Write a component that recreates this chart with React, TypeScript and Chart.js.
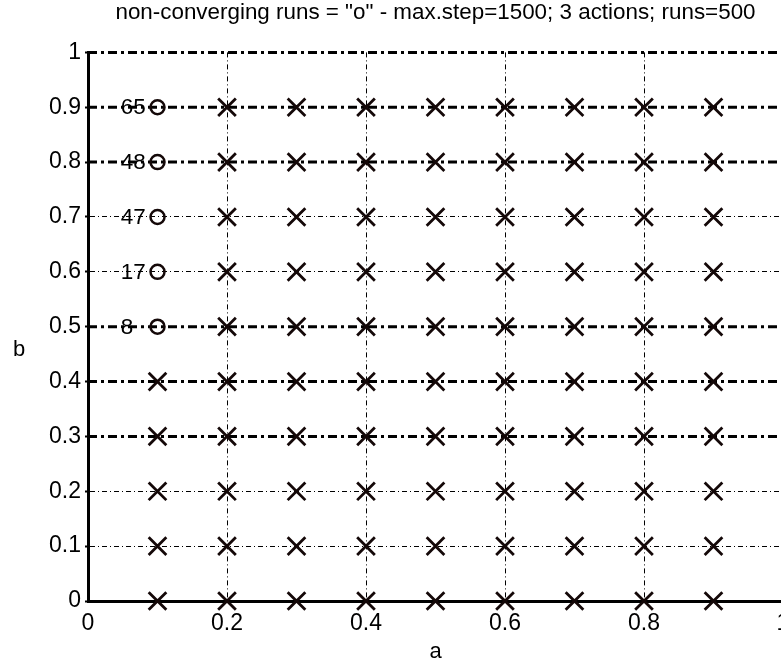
import React, { useEffect, useRef } from 'react';
import { Chart, registerables } from 'chart.js';

Chart.register(...registerables);

const TITLE = 'non-converging runs = "o" - max.step=1500; 3 actions; runs=500';
const X_LABEL = 'a';
const Y_LABEL = 'b';

const aValues = [0.1, 0.2, 0.3, 0.4, 0.5, 0.6, 0.7, 0.8, 0.9];
const bValues = [0, 0.1, 0.2, 0.3, 0.4, 0.5, 0.6, 0.7, 0.8, 0.9];
const circleA = 0.1;
const circleB = [0.5, 0.6, 0.7, 0.8, 0.9];
const circleCounts = [8, 17, 47, 48, 65];
const countLabelA = 0.047;
const thickLineB = [1, 0.9, 0.8, 0.5, 0.4, 0.3];

const xTicks = [0, 0.2, 0.4, 0.6, 0.8, 1];
const xTickLabels = ['0', '0.2', '0.4', '0.6', '0.8', '1'];
const yTicks = [0, 0.1, 0.2, 0.3, 0.4, 0.5, 0.6, 0.7, 0.8, 0.9, 1];
const yTickLabels = ['0', '0.1', '0.2', '0.3', '0.4', '0.5', '0.6', '0.7', '0.8', '0.9', '1'];

const FONT = '"Liberation Sans", Arial, Helvetica, sans-serif';
const INK = '#140808';

export default function App() {
  const ref = useRef<HTMLCanvasElement | null>(null);

  useEffect(() => {
    const canvas = ref.current;
    if (!canvas) return;

    const crosses: { x: number; y: number }[] = [];
    aValues.forEach((a) => {
      bValues.forEach((b) => {
        if (a === circleA && circleB.includes(b)) return;
        crosses.push({ x: a, y: b });
      });
    });
    const circles = circleB.map((b) => ({ x: circleA, y: b }));

    const lineSets = thickLineB.map((b) => ({
      data: [
        { x: 0, y: b },
        { x: 1, y: b },
      ],
      showLine: true,
      borderColor: '#000',
      borderWidth: 3,
      borderDash: [9, 4, 3, 4],
      pointRadius: 0,
      clip: false as const,
      order: 5,
    }));

    const labelPlugin = {
      id: 'textLabels',
      afterDatasetsDraw(chart: any) {
        const { ctx, scales, chartArea } = chart;
        const x = scales.x;
        const y = scales.y;
        ctx.save();
        ctx.fillStyle = '#000';
        ctx.font = `22.5px ${FONT}`;
        ctx.textAlign = 'left';
        ctx.textBaseline = 'middle';
        circleB.forEach((b, i) => {
          ctx.fillText(String(circleCounts[i]), x.getPixelForValue(countLabelA), y.getPixelForValue(b) + 1);
        });
        ctx.font = `22px ${FONT}`;
        ctx.textBaseline = 'alphabetic';
        ctx.textAlign = 'center';
        ctx.fillText(X_LABEL, (chartArea.left + chartArea.right) / 2, 658);
        ctx.textAlign = 'left';
        ctx.fillText(Y_LABEL, 13, (chartArea.top + chartArea.bottom) / 2 + 29);
        ctx.restore();
      },
    };

    const chart = new Chart(canvas, {
      type: 'scatter',
      data: {
        datasets: [
          {
            data: circles,
            pointStyle: 'circle',
            pointRadius: 7,
            pointBorderWidth: 2.5,
            borderColor: INK,
            backgroundColor: 'rgba(0,0,0,0)',
            clip: false,
            order: 1,
          } as any,
          {
            data: crosses,
            pointStyle: 'crossRot',
            pointRadius: 12.5,
            pointBorderWidth: 2.8,
            borderColor: INK,
            backgroundColor: INK,
            clip: false,
            order: 1,
          } as any,
          ...(lineSets as any[]),
        ],
      },
      plugins: [labelPlugin],
      options: {
        responsive: false,
        animation: false,
        devicePixelRatio: 1,
        layout: { padding: { left: 0, right: 88, top: 0, bottom: 0 } },
        plugins: {
          legend: { display: false },
          tooltip: { enabled: false },
          title: {
            display: true,
            fullSize: false,
            text: TITLE,
            color: '#000',
            font: { family: FONT, size: 22.4, weight: 'normal', lineHeight: 1 },
            padding: { top: 1.5, bottom: 28.5 },
          },
        },
        scales: {
          x: {
            type: 'linear',
            min: 0,
            max: 1,
            afterBuildTicks: (scale: any) => {
              scale.ticks = xTicks.map((v) => ({ value: v }));
            },
            afterFit: (scale: any) => {
              scale.height = 59;
            },
            ticks: {
              color: '#000',
              font: { family: FONT, size: 23 },
              padding: 9,
              maxRotation: 0,
              autoSkip: false,
              callback: (_v: any, i: number) => xTickLabels[i],
            },
            grid: {
              drawTicks: false,
              lineWidth: 1,
              color: (ctx: any) => (ctx.tick && (ctx.tick.value === 0 || ctx.tick.value === 1) ? 'rgba(0,0,0,0)' : '#000'),
            },
            border: { display: true, color: '#000', width: 3, dash: [5, 3, 1, 3] },
          },
          y: {
            type: 'linear',
            min: 0,
            max: 1,
            afterBuildTicks: (scale: any) => {
              scale.ticks = yTicks.map((v) => ({ value: v }));
            },
            afterFit: (scale: any) => {
              scale.width = 88;
            },
            ticks: {
              color: '#000',
              font: { family: FONT, size: 23 },
              padding: 4,
              autoSkip: false,
              callback: (_v: any, i: number) => yTickLabels[i],
            },
            grid: {
              drawTicks: true,
              tickLength: 3,
              tickWidth: 2,
              tickColor: '#000',
              lineWidth: 1,
              color: (ctx: any) =>
                ctx.tick && (ctx.tick.value === 0 || thickLineB.includes(ctx.tick.value)) ? 'rgba(0,0,0,0)' : '#000',
            },
            border: { display: true, color: '#000', width: 3, dash: [5, 3, 1, 3] },
          },
        },
      } as any,
    });

    return () => chart.destroy();
  }, []);

  return (
    <div
      style={{
        position: 'absolute',
        left: 0,
        top: 0,
        width: 781,
        height: 660,
        overflow: 'hidden',
        background: '#fff',
      }}
    >
      <canvas ref={ref} width={871} height={660} style={{ display: 'block', width: 871, height: 660 }} />
    </div>
  );
}
